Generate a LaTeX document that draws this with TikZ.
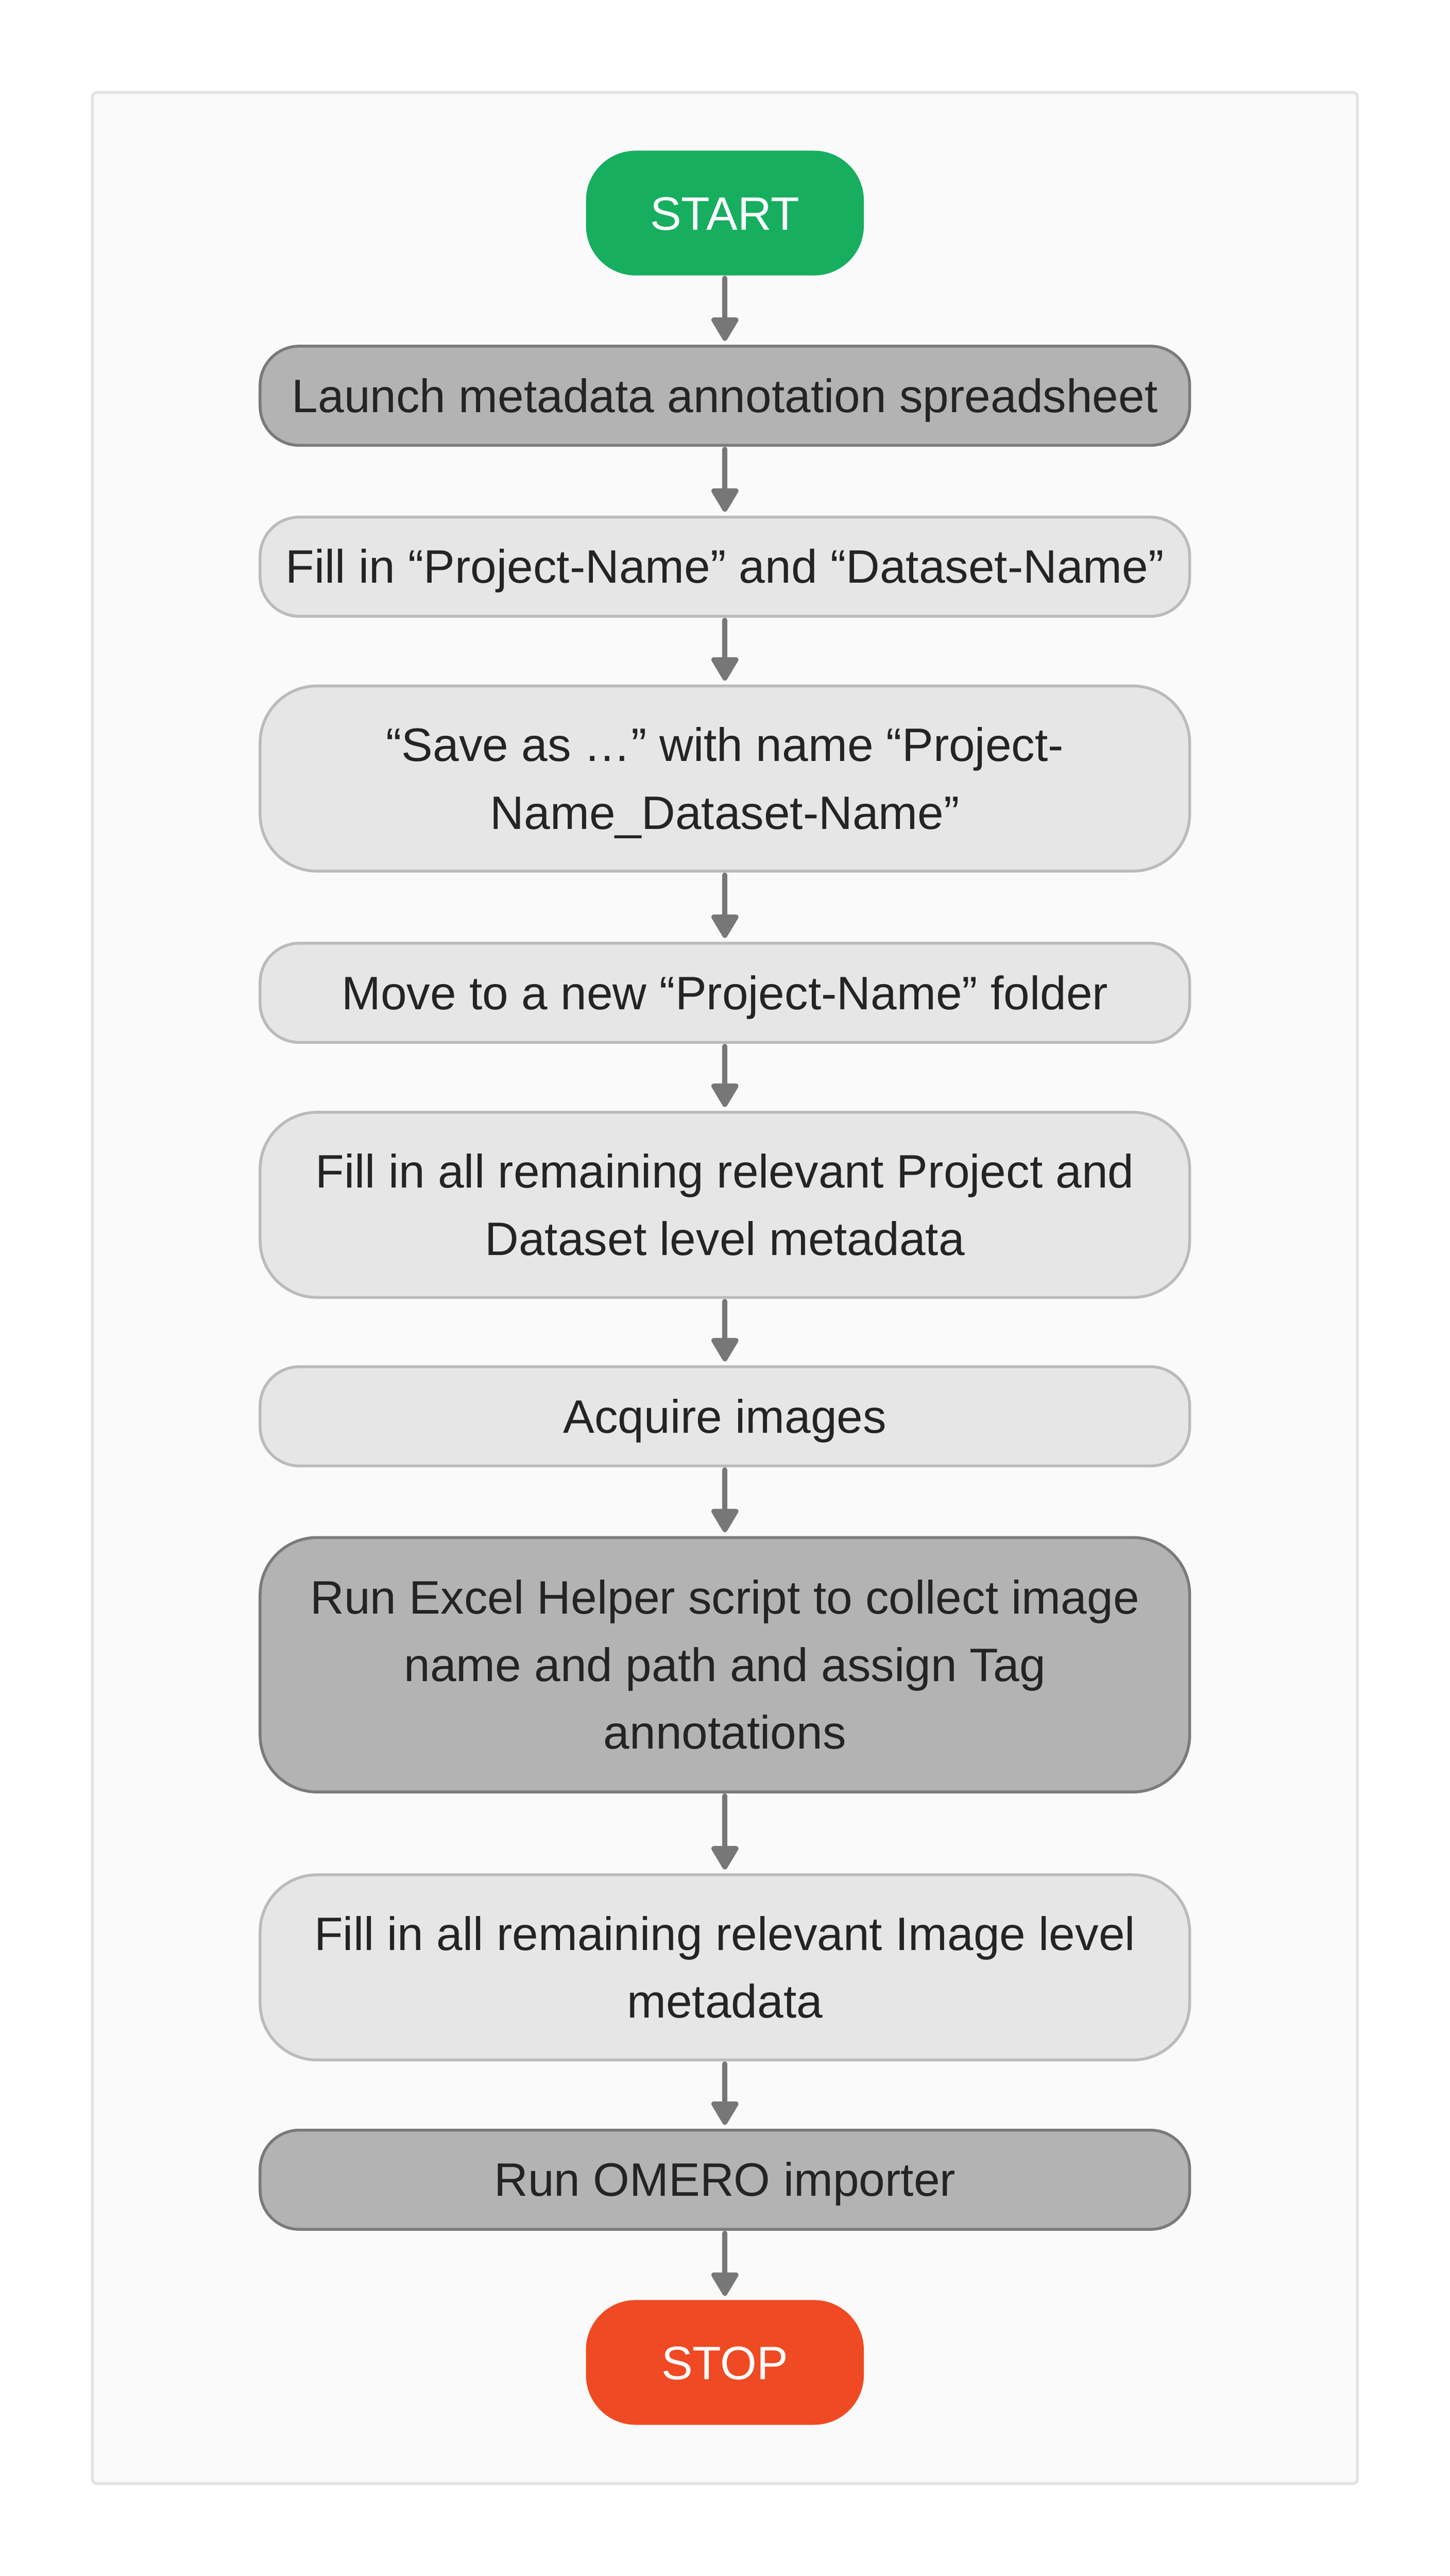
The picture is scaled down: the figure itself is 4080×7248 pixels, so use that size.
\documentclass[tikz,border=0pt]{standalone}
\usepackage{fontspec}
\setmainfont{Liberation Sans}
\usetikzlibrary{arrows.meta}
\definecolor{frameFill}{HTML}{FAFAFA}
\definecolor{frameLine}{HTML}{E2E2E2}
\definecolor{darkFill}{HTML}{B3B3B3}
\definecolor{darkLine}{HTML}{7A7A7A}
\definecolor{lightFill}{HTML}{E6E6E6}
\definecolor{lightLine}{HTML}{BBBBBB}
\definecolor{startGreen}{HTML}{17AE5F}
\definecolor{stopRed}{HTML}{EF4A23}
\definecolor{arrowGray}{HTML}{777777}
\definecolor{textDark}{HTML}{242424}
\newcommand\lnstrut{\rule[-6.4pt]{0pt}{36.4pt}}
\tikzset{
  base/.style={rectangle, inner sep=0pt, align=center,
    font=\fontsize{33pt}{47.5pt}\selectfont, text=textDark, minimum width=654pt},
  onel/.style={minimum height=69.75pt, rounded corners=27.5pt},
  twol/.style={minimum height=130.25pt, rounded corners=40pt},
  threel/.style={minimum height=179pt, rounded corners=40pt},
  darkbox/.style={base, draw=darkLine, fill=darkFill, line width=2pt},
  lightbox/.style={base, draw=lightLine, fill=lightFill, line width=2pt},
  term/.style={base, minimum width=195.5pt, minimum height=87.75pt,
    rounded corners=35pt, text=white},
  flow/.style={draw=arrowGray, line width=3.5pt, line cap=round,
    -{Triangle[width=20.75pt,length=18.25pt,round]},
    shorten >=2.75pt, shorten <=1.75pt}
}
\begin{document}
\begin{tikzpicture}[x=0.25pt, y=-0.25pt]
\fill[white] (0,0) rectangle (4080,7248);
\useasboundingbox (0,0) rectangle (4080,7248);
\draw[fill=frameFill, draw=frameLine, line width=2pt, rounded corners=3.25pt]
  (260,260) rectangle (3820,6988);

\node[term, fill=startGreen] (start) at (2040,599.5) {\lnstrut START};
\node[darkbox, onel] (launch) at (2040,1113.5) {\lnstrut Launch metadata annotation spreadsheet};
\node[lightbox, onel] (fillpn) at (2040,1594.5) {\lnstrut Fill in “Project-Name” and “Dataset-Name”};
\node[lightbox, twol] (save) at (2040,2190.5) {\lnstrut “Save as …” with name “Project-\\\lnstrut Name\_Dataset-Name”};
\node[lightbox, onel] (move) at (2040,2793.5) {\lnstrut Move to a new “Project-Name” folder};
\node[lightbox, twol] (fillall) at (2040,3390) {\lnstrut Fill in all remaining relevant Project and\\\lnstrut Dataset level metadata};
\node[lightbox, onel] (acquire) at (2040,3985) {\lnstrut Acquire images};
\node[darkbox, threel] (excel) at (2040,4684) {\lnstrut Run Excel Helper script to collect image\\\lnstrut name and path and assign Tag\\\lnstrut annotations};
\node[lightbox, twol] (fillimg) at (2040,5535.5) {\lnstrut Fill in all remaining relevant Image level\\\lnstrut metadata};
\node[darkbox, onel] (omero) at (2040,6133) {\lnstrut Run OMERO importer};
\node[term, fill=stopRed] (stop) at (2040,6647) {\lnstrut STOP};

\draw[flow] (start) -- (launch);
\draw[flow] (launch) -- (fillpn);
\draw[flow] (fillpn) -- (save);
\draw[flow] (save) -- (move);
\draw[flow] (move) -- (fillall);
\draw[flow] (fillall) -- (acquire);
\draw[flow] (acquire) -- (excel);
\draw[flow] (excel) -- (fillimg);
\draw[flow] (fillimg) -- (omero);
\draw[flow] (omero) -- (stop);
\end{tikzpicture}
\end{document}
